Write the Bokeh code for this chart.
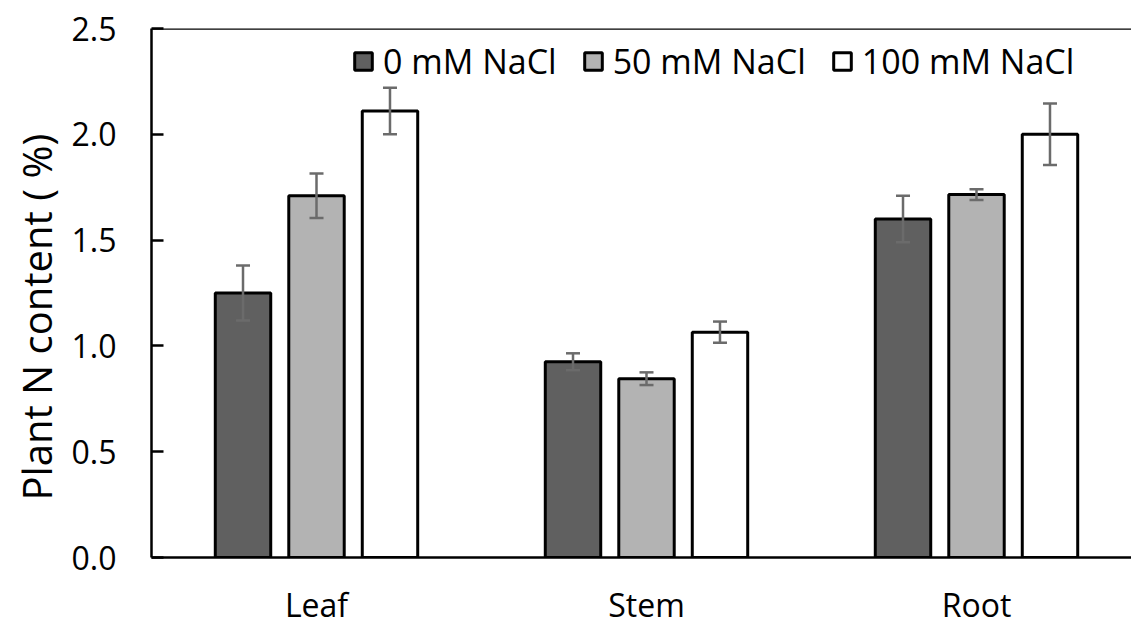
from bokeh.plotting import figure
from bokeh.models import (ColumnDataSource, Whisker, TeeHead, FixedTicker, Legend,
                          LegendItem, Span, Range1d, NumeralTickFormatter, Title)
from bokeh.embed import file_html
from bokeh.resources import INLINE

# Plant nitrogen content (%) by organ under three NaCl treatments
organs = ["Leaf", "Stem", "Root"]
treatments = ["0 mM NaCl", "50 mM NaCl", "100 mM NaCl"]
n_0mM = [1.25, 0.925, 1.60]
n_50mM = [1.71, 0.845, 1.715]
n_100mM = [2.11, 1.065, 2.00]
se_0mM = [0.13, 0.04, 0.11]
se_50mM = [0.105, 0.03, 0.025]
se_100mM = [0.11, 0.05, 0.145]
y_ticks = [0.0, 0.5, 1.0, 1.5, 2.0, 2.5]
y_title = "Plant N content ( %)"

series = [
    (treatments[0], n_0mM, se_0mM, "#606060"),
    (treatments[1], n_50mM, se_50mM, "#b3b3b3"),
    (treatments[2], n_100mM, se_100mM, "#ffffff"),
]
offsets = [-0.2227, 0.0, 0.2227]
bar_w = 0.168
FONT = "Open Sans"

W, H = 1131, 628
left, top, bottom = 151, 28, 70
frame_w = W - left
group_px = 330.0

p = figure(width=W, height=H, output_backend="svg", toolbar_location=None,
           x_range=Range1d(0, frame_w / group_px), y_range=Range1d(0, 2.5),
           min_border_left=left, min_border_right=0,
           min_border_top=top, min_border_bottom=bottom,
           background_fill_color="white", border_fill_color="white")
p.outline_line_color = None
p.grid.grid_line_color = None

items = []
for (name, vals, errs, color), off in zip(series, offsets):
    xs = [i + 0.5 + off for i in range(len(organs))]
    src = ColumnDataSource(dict(x=xs, top=vals,
                                upper=[v + e for v, e in zip(vals, errs)],
                                lower=[v - e for v, e in zip(vals, errs)]))
    r = p.vbar(x="x", top="top", width=bar_w, bottom=0, source=src,
               fill_color=color, line_color="black", line_width=3)
    items.append(LegendItem(label=name, renderers=[r]))
    wh = Whisker(base="x", upper="upper", lower="lower", source=src,
                 line_color="#6b6b6b", line_width=2.5,
                 upper_head=TeeHead(size=14, line_color="#6b6b6b", line_width=2.5),
                 lower_head=TeeHead(size=14, line_color="#6b6b6b", line_width=2.5))
    wh.level = "annotation"
    p.add_layout(wh)

# top frame edge
p.add_layout(Span(location=2.5, dimension="width", line_color="black", line_width=2.5))

# y axis
p.yaxis.ticker = FixedTicker(ticks=y_ticks)
p.yaxis.formatter = NumeralTickFormatter(format="0.0")
p.yaxis.major_tick_in = 12
p.yaxis.major_tick_out = 0
p.yaxis.minor_tick_line_color = None
p.yaxis.axis_line_width = 2.5
p.yaxis.major_tick_line_width = 2.5
p.yaxis.major_label_standoff = 35
p.yaxis.major_label_text_font = FONT
p.yaxis.major_label_text_font_size = "32px"
p.yaxis.major_label_text_color = "black"

# y axis title as a side title, starting a little above the frame bottom
p.add_layout(Title(text=y_title, align="left", offset=57, standoff=10,
                   text_font=FONT, text_font_size="40px",
                   text_font_style="normal", text_color="black"), "left")

# x axis
p.xaxis.ticker = FixedTicker(ticks=[i + 0.5 for i in range(len(organs))])
p.xaxis.major_label_overrides = {i + 0.5: o for i, o in enumerate(organs)}
p.xaxis.major_tick_line_color = None
p.xaxis.minor_tick_line_color = None
p.xaxis.axis_line_width = 2.5
p.xaxis.major_label_standoff = 19
p.xaxis.major_label_text_font = FONT
p.xaxis.major_label_text_font_size = "32px"
p.xaxis.major_label_text_color = "black"

legend = Legend(items=items, orientation="horizontal", location=(201, 473),
                glyph_width=22, glyph_height=22, label_standoff=9, spacing=25,
                padding=0, margin=0, border_line_color=None,
                background_fill_color=None,
                label_text_font=FONT, label_text_font_size="34px",
                label_text_color="black")
p.add_layout(legend)

open("out.html", "w").write(file_html(p, INLINE))
